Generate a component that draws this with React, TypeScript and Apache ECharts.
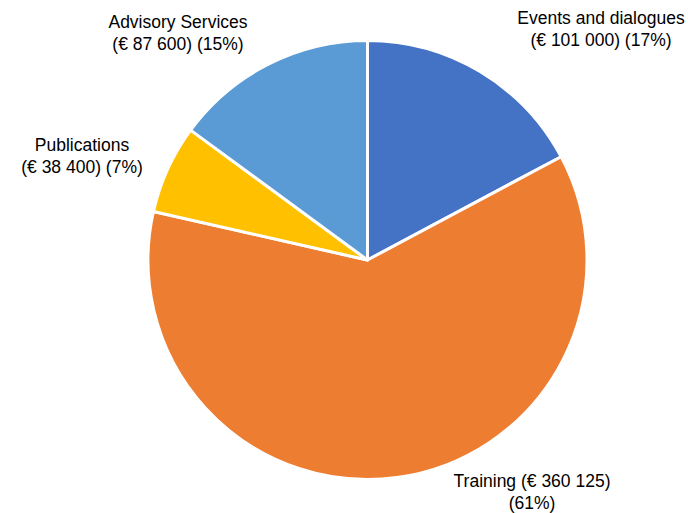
import React, { useEffect, useRef } from "react";
import * as echarts from "echarts";

const categories = ["Events and dialogues", "Training", "Publications", "Advisory Services"];
const values = [101000, 360125, 38400, 87600];
const colors = ["#4472C4", "#ED7D31", "#FFC000", "#5B9BD5"];
// label anchor points (label layout only)
const labelPos = [
  [601, 29],
  [532, 492],
  [82, 156],
  [178, 33],
];

const fmt = (v: number) => String(v).replace(/\B(?=(\d{3})+(?!\d))/g, " ");

export default function App() {
  const ref = useRef<HTMLDivElement>(null);
  useEffect(() => {
    const chart = echarts.init(ref.current!, null, { renderer: "svg" });
    const total = values.reduce((a, b) => a + b, 0);
    chart.setOption({
      animation: false,
      backgroundColor: "#ffffff",
      series: [
        {
          type: "pie",
          center: [367.5, 260],
          radius: [0, 219.5],
          startAngle: 90,
          clockwise: true,
          itemStyle: { borderColor: "#ffffff", borderWidth: 3 },
          labelLine: { show: false },
          label: {
            show: true,
            position: "outside",
            fontFamily: "Liberation Sans, Arial, sans-serif",
            fontSize: 17.5,
            lineHeight: 21.5,
            color: "#000000",
            align: "center",
            overflow: "none",
            formatter: (p: any) => {
              const pct = Math.round((p.value / total) * 100);
              if (p.dataIndex === 1) return `${p.name} (€ ${fmt(p.value)})\n(${pct}%)`;
              return `${p.name}\n(€ ${fmt(p.value)}) (${pct}%)`;
            },
          },
          labelLayout: (params: any) => {
            const pos = labelPos[params.dataIndex];
            return { x: pos[0], y: pos[1], align: "center", verticalAlign: "middle" };
          },
          data: categories.map((c, i) => ({
            name: c,
            value: values[i],
            itemStyle: { color: colors[i] },
          })),
        },
      ],
    });
    return () => chart.dispose();
  }, []);
  return (
    <div
      ref={ref}
      style={{ position: "absolute", left: 0, top: 0, width: 688, height: 513 }}
    />
  );
}
